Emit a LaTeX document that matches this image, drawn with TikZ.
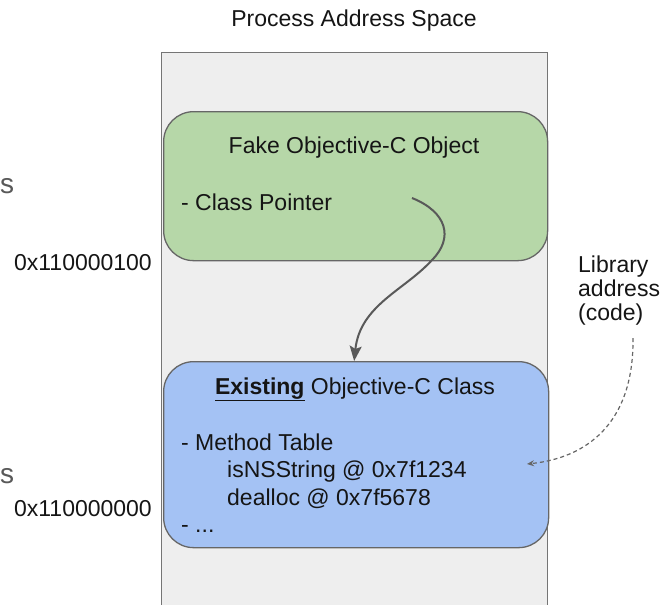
\documentclass[tikz,border=0pt]{standalone}
\usepackage{fontspec}
\setmainfont{Liberation Sans}
\usetikzlibrary{arrows.meta}
\definecolor{txt}{HTML}{151515}
\definecolor{greyfill}{HTML}{EEEEEE}
\definecolor{greenfill}{HTML}{B6D7A8}
\definecolor{bluefill}{HTML}{A4C2F4}
\definecolor{edge}{HTML}{666666}
\definecolor{arrowc}{HTML}{595959}
\tikzset{
  lbl/.style={inner sep=0pt, text=txt, font=\fontsize{23}{27}\selectfont},
  lblw/.style={lbl, anchor=base west},
  cutlbl/.style={inner sep=0pt, text=arrowc, anchor=base west, font=\fontsize{28}{32}\selectfont},
  box/.style={draw=edge, line width=1.3pt, rounded corners=30pt, inner sep=0pt},
  ptr/.style={draw=arrowc, line width=2pt, -{Stealth[length=15pt,width=12pt,inset=3pt]}},
  libptr/.style={draw=edge, line width=1.2pt, dash pattern=on 4pt off 3pt, -{Stealth[length=7pt,width=6pt]}},
}
\begin{document}
\begin{tikzpicture}[x=1pt,y=-1pt]
\useasboundingbox (0,0) rectangle (665,605);
\clip (0,0) rectangle (665,605);
% address space column
\node[draw=edge!90, fill=greyfill, line width=1.2pt, inner sep=0pt, minimum width=386pt, minimum height=568pt, anchor=north west] (space) at (161,52) {};
\node[lbl, anchor=base] (title) at (354,27) {Process Address Space};
% fake object
\node[box, fill=greenfill, minimum width=384pt, minimum height=149pt, anchor=north west] (fake) at (163,111) {};
\node[lbl, anchor=base] (faket) at (354,153) {Fake Objective-C Object};
\node[lblw] (cptr) at (181,210) {- Class Pointer};
% existing class
\node[box, fill=bluefill, minimum width=385pt, minimum height=186pt, anchor=north west] (cls) at (163,361) {};
\node[lbl, anchor=base] (clst) at (355,394) {\underline{\textbf{Existing}} Objective-C Class};
\node[lblw] (mt) at (181,450) {- Method Table};
\node[lblw] (m1) at (227,477.5) {isNSString @ 0x7f1234};
\node[lblw] (m2) at (227,505) {dealloc @ 0x7f5678};
\node[lblw] (more) at (181,532) {- ...};
% addresses
\node[lbl, anchor=base east] (a1) at (152,270) {0x110000100};
\node[lbl, anchor=base east] (a0) at (152,516) {0x110000000};
% letters at left edge
\node[cutlbl] (s1) at (0,193) {s};
\node[cutlbl] (s0) at (0,483) {s};
% library label
\node[lblw] (lib1) at (578,272) {Library};
\node[lblw] (lib2) at (578,296) {address};
\node[lblw] (lib3) at (578,320) {(code)};
% connectors
\coordinate (cpstart) at (412,198);
\coordinate (bend) at (432,260);
\coordinate (libstart) at (633,338);
\coordinate (mtarget) at (527,464);
\draw[ptr] (cpstart) .. controls (447,212) and (454,238) .. (bend)
  .. controls (405,290) and (360,305) .. ([xshift=-2pt]cls.north);
\draw[libptr] (libstart) .. controls (634,425) and (585,458) .. (mtarget);
\end{tikzpicture}
\end{document}
